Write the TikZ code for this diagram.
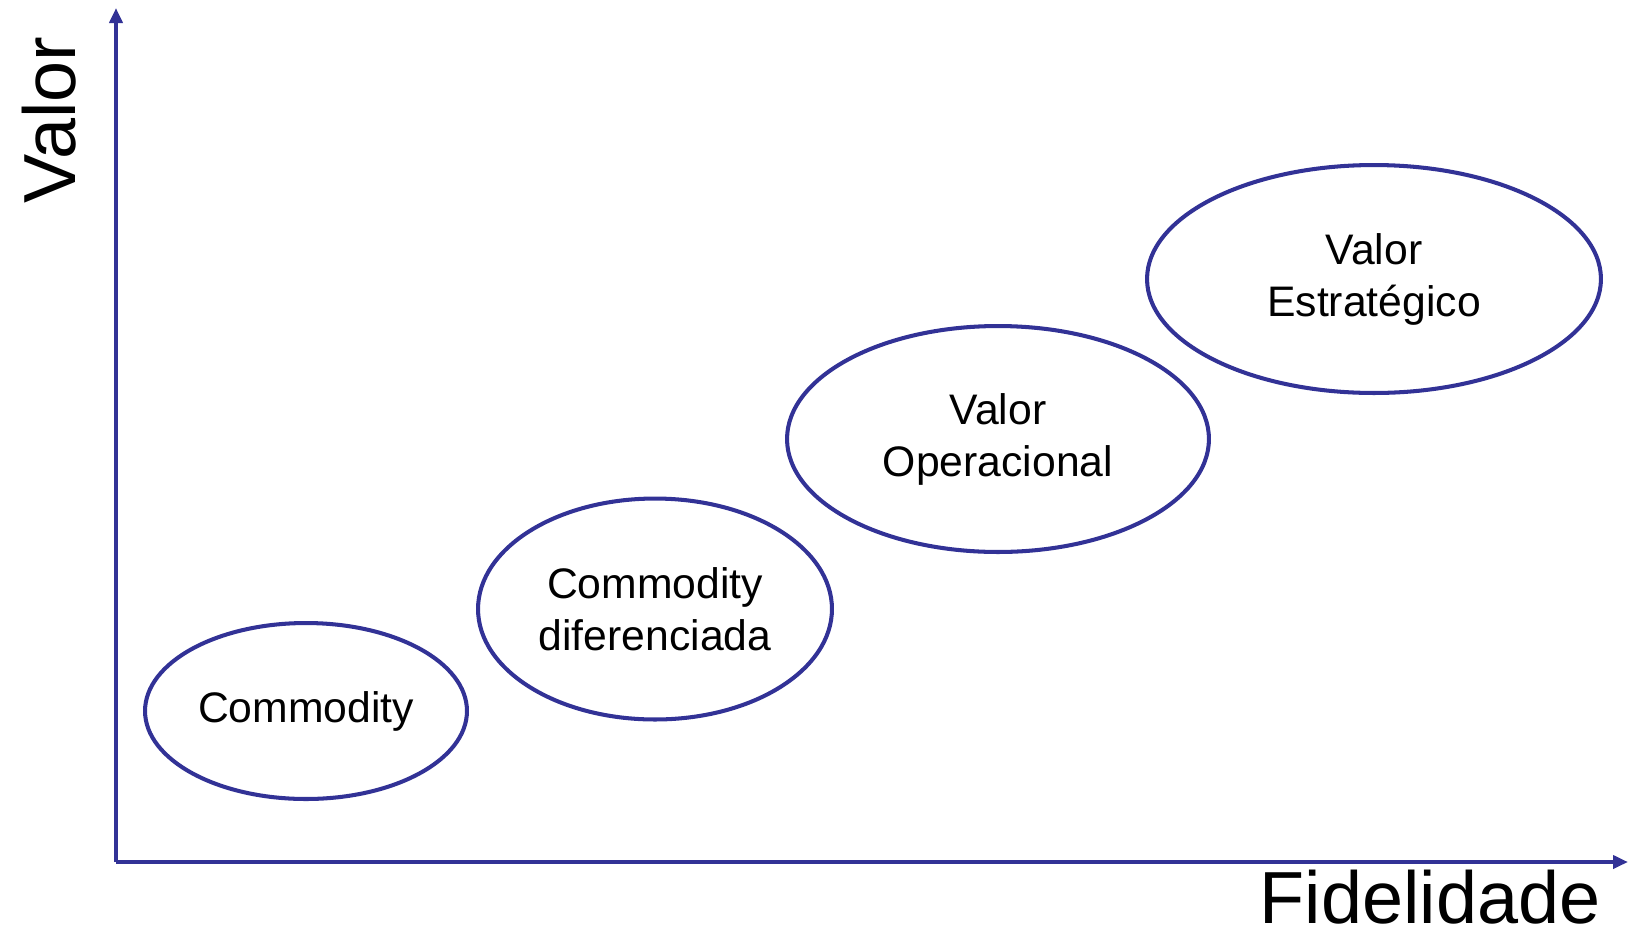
\documentclass[tikz,border=0pt]{standalone}
\usepackage{fontspec}
\setmainfont{Liberation Sans}
\usepackage{xcolor}
\usetikzlibrary{arrows.meta,shapes.geometric}
\definecolor{axisblue}{RGB}{50,50,150}

\begin{document}
\begin{tikzpicture}[x=0.02cm,y=-0.02cm,>={Triangle[length=0.3cm,width=0.26cm]},
			line width=2.3pt,
			stage/.style={ellipse,draw=axisblue,inner sep=0pt,align=center,
				font=\fontsize{24.3}{29.6}\selectfont},
			axislabel/.style={inner sep=0pt,font=\fontsize{42}{50}\selectfont}]
			
			\useasboundingbox (0,0) rectangle (1630,941);
			
			\coordinate (O) at (116,862);
			\coordinate (Y) at (116,8);
			\coordinate (X) at (1628,862);
			
			\draw[->,axisblue] (O) -- (Y);
			\draw[->,axisblue] (O) -- (X);
			
			\node[axislabel,rotate=90] (valor) at (49,120) {Valor};
			\node[axislabel] (fid) at (1430,897) {Fidelidade};
			
			\node[stage,minimum width=6.44cm,minimum height=3.52cm] (C) at (306,711) {Commodity};
			\node[stage,minimum width=7.08cm,minimum height=4.42cm] (D) at (655,609) {Commodity\\diferenciada};
			\node[stage,minimum width=8.44cm,minimum height=4.52cm] (OP) at (998,439) {Valor\\Operacional};
			\node[stage,minimum width=9.08cm,minimum height=4.56cm] (E) at (1374,279) {Valor\\Estratégico};
					\end{tikzpicture}
\end{document}
